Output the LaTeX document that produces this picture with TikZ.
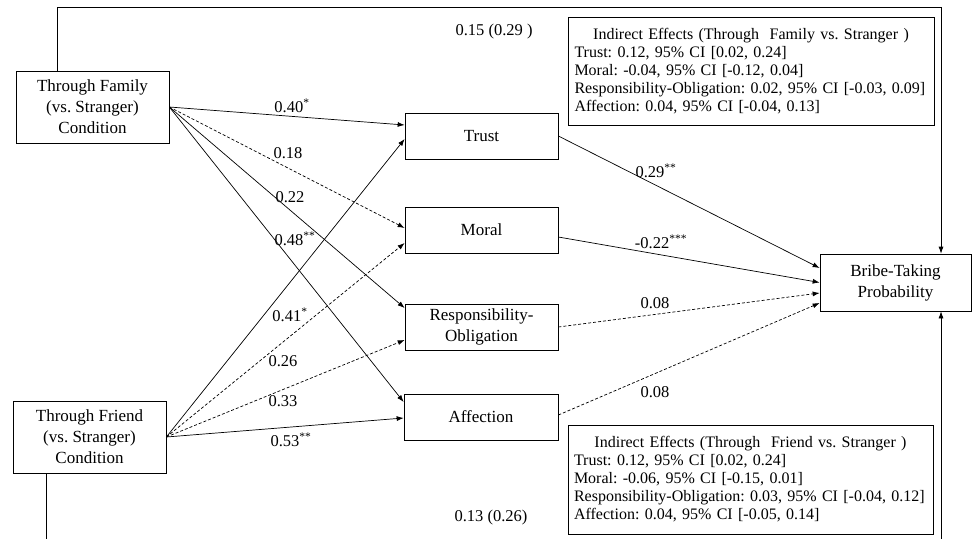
\documentclass[tikz,border=0pt]{standalone}
\usepackage{fontspec}
\setmainfont{Liberation Serif}
\usetikzlibrary{arrows.meta,calc}
\frenchspacing
\begin{document}
\begin{tikzpicture}[x=1pt,y=-1pt,
  line width=0.7pt,
  box/.style={draw, rectangle, inner sep=0pt, align=center, font=\fontsize{17}{21}\selectfont},
  lbl/.style={inner sep=0pt, font=\fontsize{16.5}{20}\selectfont},
  effbox/.style={draw, rectangle, inner xsep=6pt, inner ysep=0pt, text width=353pt, minimum height=108pt, align=left, font=\fontsize{16}{18}\selectfont},
  arr/.style={-{Latex[length=7pt,width=5pt]}},
  dsh/.style={arr, dash pattern=on 3pt off 2pt}]
\useasboundingbox (0,0) rectangle (973,538);
\clip (0,0) rectangle (973,538);
% nodes
\node[box, minimum width=153pt, minimum height=72pt] (fam) at (92.5,107) {Through Family\\(vs. Stranger)\\Condition};
\node[box, minimum width=153pt, minimum height=72pt] (fri) at (89.5,437) {Through Friend\\(vs. Stranger)\\Condition};
\node[box, minimum width=153pt, minimum height=46pt] (trust) at (481.5,136) {Trust};
\node[box, minimum width=153pt, minimum height=46pt] (moral) at (481.5,230) {Moral};
\node[box, minimum width=153pt, minimum height=46pt] (resp) at (481.5,327) {Responsibility-\\Obligation};
\node[box, minimum width=154pt, minimum height=46pt] (aff) at (481,417) {Affection};
\node[box, minimum width=151pt, minimum height=57pt] (bribe) at (895.5,282.5) {Bribe-Taking\\Probability};
\node[effbox, minimum width=366pt] (eff1) at (751,71) {\makebox[353pt][c]{Indirect Effects (Through\ \ Family vs. Stranger )}\\
Trust: 0.12, 95\% CI [0.02, 0.24]\\
Moral: -0.04, 95\% CI [-0.12, 0.04]\\
Responsibility-Obligation: 0.02, 95\% CI [-0.03, 0.09]\\
Affection: 0.04, 95\% CI [-0.04, 0.13]};
\node[effbox, minimum width=365pt, minimum height=109pt] (eff2) at (750.5,479.5) {\makebox[353pt][c]{Indirect Effects (Through\ \ Friend vs. Stranger )}\\
Trust: 0.12, 95\% CI [0.02, 0.24]\\
Moral: -0.06, 95\% CI [-0.15, 0.01]\\
Responsibility-Obligation: 0.03, 95\% CI [-0.04, 0.12]\\
Affection: 0.04, 95\% CI [-0.05, 0.14]};
% direct paths
\coordinate (topL) at (57,7);
\coordinate (topR) at (941,7);
\coordinate (botL) at (46,560);
\coordinate (botR) at (941,560);
\draw[arr] (fam.north -| topL) -- (topL) -- (topR) -- (bribe.north -| topR);
\draw[arr] (fri.south -| botL) -- (botL) -- (botR) -- (bribe.south -| botR);
\node[lbl] (d1) at (494,32) {0.15 (0.29 )};
\node[lbl] (d2) at (491,518) {0.13 (0.26)};
% a paths
\draw[arr] (fam.east) -- ($(trust.west)+(0,-11)$);
\draw[dsh] (fam.east) -- ($(moral.west)+(0,-2)$);
\draw[arr] (fam.east) -- ($(resp.west)+(0,-19)$);
\draw[arr] (fam.east) -- ($(aff.west)+(0,-15)$);
\draw[arr] (fri.east) -- ($(trust.west)+(0,3)$);
\draw[dsh] (fri.east) -- ($(moral.west)+(0,13)$);
\draw[dsh] (fri.east) -- ($(resp.west)+(0,13)$);
\draw[arr] (fri.east) -- ($(aff.west)+(0,1)$);
% b paths
\draw[arr] (trust.east) -- ($(bribe.west)+(0,-14.5)$);
\draw[arr] ($(moral.east)+(0,7)$) -- ($(bribe.west)+(0,0)$);
\draw[dsh] (resp.east) -- ($(bribe.west)+(0,10.5)$);
\draw[dsh] ($(aff.east)+(0,-2)$) -- ($(bribe.west)+(0,20.5)$);
% labels
\node[lbl] (l1) at (292,106) {0.40\textsuperscript{*}};
\node[lbl] (l2) at (288,153) {0.18};
\node[lbl] (l3) at (290,197) {0.22};
\node[lbl] (l4) at (295,239) {0.48\textsuperscript{**}};
\node[lbl] (l5) at (290,315) {0.41\textsuperscript{*}};
\node[lbl] (l6) at (283,361) {0.26};
\node[lbl] (l7) at (283,401) {0.33};
\node[lbl] (l8) at (291,440) {0.53\textsuperscript{**}};
\node[lbl] (l9) at (656,171) {0.29\textsuperscript{**}};
\node[lbl] (l10) at (661,242) {-0.22\textsuperscript{***}};
\node[lbl] (l11) at (655,303) {0.08};
\node[lbl] (l12) at (655,392) {0.08};
\end{tikzpicture}
\end{document}
